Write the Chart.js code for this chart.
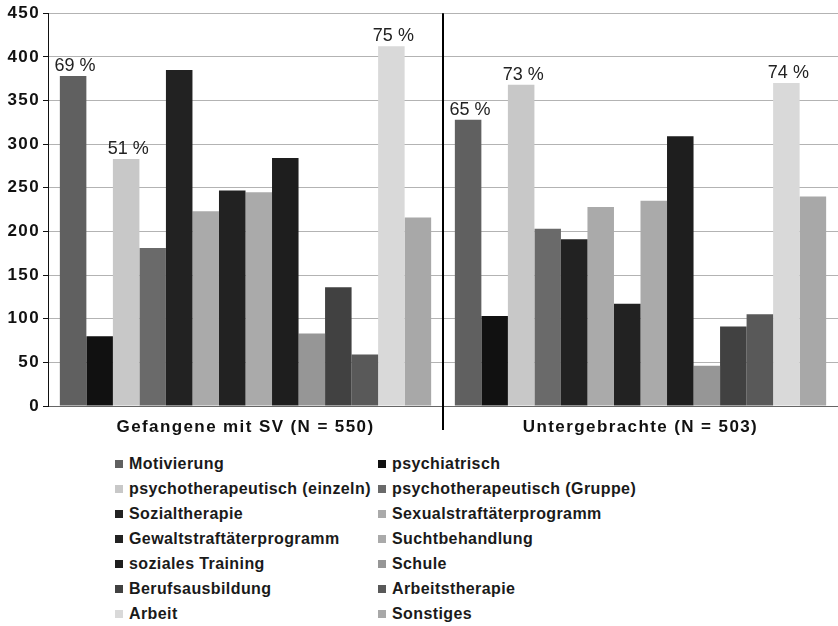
<!DOCTYPE html>
<html>
<head>
<meta charset="utf-8">
<script src="https://cdn.jsdelivr.net/npm/chart.js@4/dist/chart.umd.min.js"></script>
<style>
  body { margin: 0; background: #fff; }
  #wrap { position: relative; width: 838px; height: 626px; font-family: "Liberation Sans", Arial, sans-serif; }
  #chartBox { position: absolute; left: 0; top: 0; width: 838px; height: 440px; }
  #legend { position: absolute; left: 115px; top: 451px; display: grid; grid-template-columns: 263px 263px; }
  #legend div { height: 25px; line-height: 25px; font-weight: bold; font-size: 16px; color: #1a1a1a; white-space: nowrap; letter-spacing: 0.4px; }
  #legend span { display: inline-block; width: 8px; height: 8px; margin-right: 6px; vertical-align: 1px; }
</style>
</head>
<body>
<div id="wrap">
  <div id="chartBox"><canvas id="mainChart"></canvas></div>
  <div id="legend"></div>
</div>
<script>
const groups = ['Gefangene mit SV (N = 550)', 'Untergebrachte (N = 503)'];

const seriesNames = [
    'Motivierung', 'psychiatrisch', 'psychotherapeutisch (einzeln)', 'psychotherapeutisch (Gruppe)',
    'Sozialtherapie', 'Sexualstraftäterprogramm', 'Gewaltstraftäterprogramm', 'Suchtbehandlung',
    'soziales Training', 'Schule', 'Berufsausbildung', 'Arbeitstherapie', 'Arbeit', 'Sonstiges'
];

// values per series: [Gefangene mit SV, Untergebrachte]
const motivierung = [378, 328];
const psychiatrisch = [80, 103];
const psyEinzeln = [283, 368];
const psyGruppe = [181, 203];
const sozialtherapie = [385, 191];
const sexualProgramm = [223, 228];
const gewaltProgramm = [247, 117];
const suchtbehandlung = [245, 235];
const sozialesTraining = [284, 309];
const schule = [83, 46];
const berufsausbildung = [136, 91];
const arbeitstherapie = [59, 105];
const arbeit = [412, 370];
const sonstiges = [216, 240];

// percentage labels above some bars
const pctMotivierung = ['69 %', '65 %'];
const pctEinzeln = ['51 %', '73 %'];
const pctArbeit = ['75 %', '74 %'];

const seriesValues = [motivierung, psychiatrisch, psyEinzeln, psyGruppe, sozialtherapie, sexualProgramm,
    gewaltProgramm, suchtbehandlung, sozialesTraining, schule, berufsausbildung, arbeitstherapie, arbeit, sonstiges];
const seriesLabels = [pctMotivierung, null, pctEinzeln, null, null, null, null, null, null, null, null, null, pctArbeit, null];

const colors = ['#606060', '#111111', '#c8c8c8', '#6a6a6a', '#222222', '#aaaaaa', '#222222',
    '#aaaaaa', '#1e1e1e', '#969696', '#414141', '#595959', '#d9d9d9', '#a8a8a8'];

const datasets = seriesNames.map((name, i) => ({
    label: name,
    data: seriesValues[i],
    pctLabels: seriesLabels[i],
    backgroundColor: colors[i],
    borderWidth: 0,
    barPercentage: 1,
    categoryPercentage: 0.94
}));

// wider letter spacing for axis text, like the original
const spacingPlugin = {
    id: 'spacing',
    beforeDraw(chart) {
        chart.ctx.letterSpacing = '1.4px';
    }
};

// percent labels above bars
const pctPlugin = {
    id: 'pctLabels',
    afterDatasetsDraw(chart) {
        const ctx = chart.ctx;
        ctx.save();
        ctx.letterSpacing = '0px';
        ctx.font = '18px "Liberation Sans", Arial, sans-serif';
        ctx.fillStyle = '#222';
        ctx.textAlign = 'center';
        ctx.textBaseline = 'alphabetic';
        chart.data.datasets.forEach((ds, i) => {
            if (!ds.pctLabels) return;
            chart.getDatasetMeta(i).data.forEach((bar, j) => {
                ctx.fillText(ds.pctLabels[j], bar.x + 2, bar.y - 5);
            });
        });
        ctx.restore();
    }
};

// black divider between the two groups
const dividerPlugin = {
    id: 'divider',
    afterDatasetsDraw(chart) {
        const xs = chart.scales.x;
        const area = chart.chartArea;
        const x = (xs.getPixelForValue(0) + xs.getPixelForValue(1)) / 2;
        const ctx = chart.ctx;
        ctx.save();
        ctx.strokeStyle = '#000';
        ctx.lineWidth = 2;
        ctx.beginPath();
        ctx.moveTo(x, area.top);
        ctx.lineTo(x, area.bottom + 24);
        ctx.stroke();
        ctx.restore();
    }
};

const boldFont = { family: '"Liberation Sans", Arial, sans-serif', size: 17, weight: 'bold' };

new Chart(document.getElementById('mainChart'), {
    type: 'bar',
    data: { labels: groups, datasets: datasets },
    options: {
        responsive: true,
        maintainAspectRatio: false,
        animation: false,
        layout: { padding: { top: 12, right: 0, left: 0, bottom: 0 } },
        plugins: {
            legend: { display: false },
            tooltip: { enabled: false }
        },
        scales: {
            x: {
                grid: { display: false },
                border: { color: '#666', width: 1 },
                ticks: { color: '#111', font: boldFont, padding: 3 },
                afterFit(scale) { scale.height = 34; }
            },
            y: {
                min: 0,
                max: 450,
                ticks: { stepSize: 50, color: '#111', font: boldFont, padding: 3 },
                grid: { color: '#b3b3b3', tickColor: '#111', tickLength: 5 },
                border: { color: '#111', width: 1 },
                afterFit(scale) { scale.width = 48; }
            }
        }
    },
    plugins: [spacingPlugin, pctPlugin, dividerPlugin]
});

// legend in two columns
const legendBox = document.getElementById('legend');
seriesNames.forEach((name, i) => {
    const item = document.createElement('div');
    item.innerHTML = '<span style="background:' + colors[i] + '"></span>' + name;
    legendBox.appendChild(item);
});
</script>
</body>
</html>
